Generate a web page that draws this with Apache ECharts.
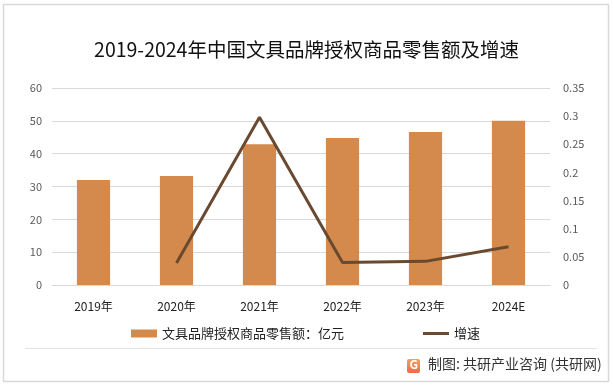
<!DOCTYPE html>
<html>
<head>
<meta charset="utf-8">
<script src="https://cdn.jsdelivr.net/npm/echarts@6/dist/echarts.min.js"></script>
<style>html,body{margin:0;padding:0;background:#fff;}#c{width:613px;height:387px;}</style>
</head>
<body>
<div id="c"></div>
<script>
const categories = ['2019年', '2020年', '2021年', '2022年', '2023年', '2024E'];
const retailSales = [32.0, 33.2, 42.9, 44.8, 46.6, 50.0];
const growthRate = [null, 0.039, 0.298, 0.040, 0.042, 0.068];
const leftTicks = { min: 0, max: 60, interval: 10 };
const rightTicks = { min: 0, max: 0.35, interval: 0.05 };
const barName = '文具品牌授权商品零售额：亿元';
const lineName = '增速';

const FONT = '"Noto Sans CJK SC", "Noto Sans", sans-serif';
const chart = echarts.init(document.getElementById('c'), null, { renderer: 'canvas' });
chart.setOption({
  backgroundColor: '#fff',
  animation: false,
  textStyle: { fontFamily: FONT },
  title: {
    text: '2019-2024年中国文具品牌授权商品零售额及增速',
    left: 'center', top: 35,
    textStyle: { fontSize: 19.5, fontWeight: 'normal', color: '#111', fontFamily: FONT }
  },
  grid: { left: 52, right: 63, top: 88, bottom: 102, containLabel: false },
  legend: [
    { data: [barName], left: 126, top: 322, icon: 'rect', itemWidth: 26, itemHeight: 8, itemGap: 4,
      textStyle: { fontSize: 13, color: '#222', fontFamily: FONT } },
    { data: [lineName], left: 418, top: 322, icon: 'rect', itemWidth: 26, itemHeight: 3, itemGap: 4,
      textStyle: { fontSize: 13, color: '#222', fontFamily: FONT } }
  ],
  xAxis: {
    type: 'category', data: categories,
    axisLine: { lineStyle: { color: '#d9d9d9' } },
    axisTick: { show: false },
    axisLabel: { color: '#222', fontSize: 12, margin: 15, fontFamily: FONT }
  },
  yAxis: [
    { type: 'value', min: leftTicks.min, max: leftTicks.max, interval: leftTicks.interval,
      axisLine: { show: false }, axisTick: { show: false },
      axisLabel: { color: '#595959', fontSize: 11, margin: 10, fontFamily: FONT },
      splitLine: { lineStyle: { color: '#d9d9d9' } } },
    { type: 'value', min: rightTicks.min, max: rightTicks.max, interval: rightTicks.interval,
      axisLine: { show: false }, axisTick: { show: false },
      axisLabel: { color: '#595959', fontSize: 11, margin: 13, fontFamily: FONT },
      splitLine: { show: false } }
  ],
  series: [
    { name: barName, type: 'bar', data: retailSales, barWidth: '40%', yAxisIndex: 0,
      itemStyle: { color: '#D38A4C' } },
    { name: lineName, type: 'line', data: growthRate, yAxisIndex: 1, showSymbol: false, symbol: 'none',
      connectNulls: false,
      lineStyle: { color: '#6A4931', width: 3 }, itemStyle: { color: '#6A4931' } }
  ],
  graphic: [
    { type: 'rect', shape: { x: 3.5, y: 4.5, width: 605, height: 377 }, style: { fill: 'none', stroke: '#d9d9d9', lineWidth: 1.5 }, silent: true },
    { type: 'line', shape: { x1: 25, y1: 348.5, x2: 597, y2: 348.5 }, style: { stroke: '#e3e3e3', lineWidth: 1 }, silent: true },
    { type: 'rect', shape: { x: 407, y: 359, width: 13, height: 14, r: 2 },
      style: { fill: new echarts.graphic.LinearGradient(0, 0, 0, 1, [{ offset: 0, color: '#F4A25B' }, { offset: 1, color: '#EC6A45' }]) } },
    { type: 'text', left: 409.5, top: 358, style: { text: 'G', fill: '#fff', fontSize: 12, fontWeight: 'bold', fontFamily: FONT } },
    { type: 'text', left: 428, top: 357, style: { text: '制图: 共研产业咨询 (共研网)', fill: '#333', fontSize: 14, fontFamily: FONT } }
  ]
});
</script>
</body>
</html>
